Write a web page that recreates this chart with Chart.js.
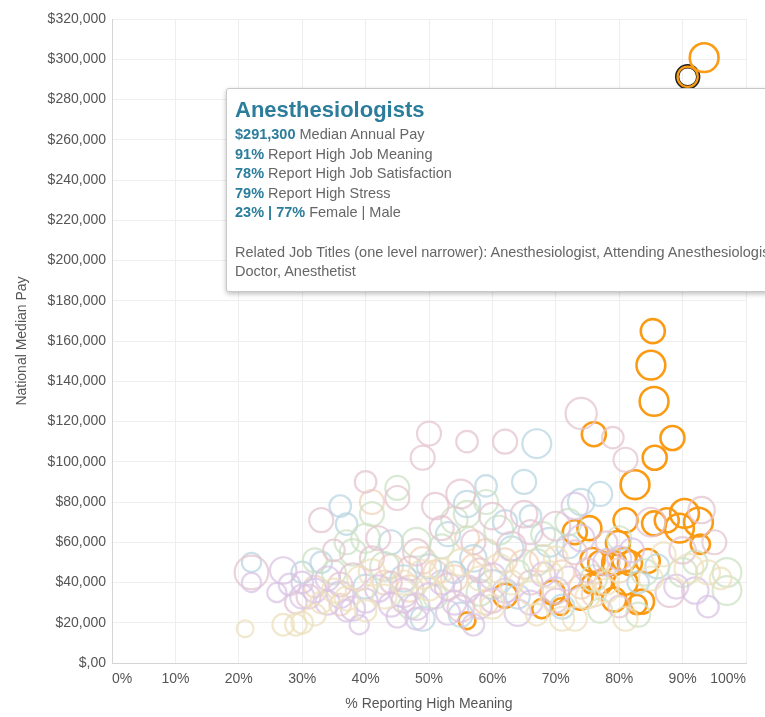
<!DOCTYPE html>
<html>
<head>
<meta charset="utf-8">
<script src="https://cdn.jsdelivr.net/npm/chart.js@4"></script>
<style>
  body { margin: 0; background: #fff; font-family: "Liberation Sans", Arial, sans-serif; }
  #wrap { position: relative; width: 765px; height: 717px; overflow: hidden; }
  #tip {
    position: absolute; left: 226px; top: 88px; width: 560px; height: 204px;
    background: #fff; border: 1px solid #c8c8c8; border-radius: 3px;
    box-shadow: 0 2px 5px rgba(0,0,0,0.25); box-sizing: border-box;
    padding: 6px 8px; color: #666; font-size: 14.5px; line-height: 19.6px; white-space: nowrap;
  }
  #tip .t { color: #2b7d9b; font-weight: bold; font-size: 22px; line-height: 30px; }
  #tip b { color: #2b7d9b; }
</style>
</head>
<body>
<div id="wrap">
  <canvas id="chart" width="765" height="717"></canvas>
  <div id="tip">
    <div class="t">Anesthesiologists</div>
    <div><b>$291,300</b> Median Annual Pay</div>
    <div><b>91%</b> Report High Job Meaning</div>
    <div><b>78%</b> Report High Job Satisfaction</div>
    <div><b>79%</b> Report High Stress</div>
    <div><b>23% | 77%</b> Female | Male</div>
    <div>&nbsp;</div>
    <div>Related Job Titles (one level narrower): Anesthesiologist, Attending Anesthesiologist,</div>
    <div>Doctor, Anesthetist</div>
  </div>
</div>
<script>
// [% high meaning, median pay in $k, bubble radius]
const pinkJobs = [[22,45,14],[33,71,10],[40,90,9],[50,114,10],[49,102,10],[56,110,9],[62,110,10],[74,124,13],[79,112,9],[81,101,10],[51,78,11],[55,84,12],[45,82,10],[60,73,11],[66,65,10],[70,68,12],[85,70,12],[93,76,11],[95,60,10],[90,56,11],[88,35,12],[70,31,10],[55,27,11],[46,31,10],[38,43,11],[42,62,10],[48,55,11],[58,46,10],[63,58,12],[52,67,10],[44,40,9],[36,39,10],[31,33,10],[29,30,9],[66,40,10],[75,46,10],[80,28,9],[60,31,10],[53,38,11],[47,47,10],[41,52,10],[35,56,9],[65,74,11],[73,55,10],[78,60,9],[57,60,10]];
const blueJobs = [[22,50,8],[36,78,9],[44,60,10],[37,69,9],[53,64,10],[56,79,11],[59,88,9],[65,90,10],[67,109,12],[66,73,9],[72,58,10],[74,80,11],[77,84,10],[69,60,12],[63,57,10],[57,52,11],[50,48,10],[46,42,11],[40,38,10],[60,39,12],[55,24,10],[49,22,10],[64,33,10],[71,28,10],[83,40,9],[86,48,10],[33,50,9],[30,45,9],[62,70,10],[54,45,9]];
const greenJobs = [[40,62,12],[41,74,10],[45,87,10],[37,60,10],[38,55,11],[43,48,12],[48,60,12],[52,58,10],[54,71,11],[56,74,11],[59,80,10],[61,66,12],[68,64,10],[72,70,11],[76,42,11],[80,62,10],[84,45,11],[90,45,12],[97,45,12],[97,36,12],[92,50,10],[67,50,11],[64,45,10],[58,35,11],[51,33,10],[35,45,10],[32,51,10],[47,28,10],[77,26,10],[83,24,10]];
const purpleJobs = [[22,40,8],[27,46,11],[28,39,9],[30,33,10],[32,36,10],[34,30,10],[36,34,11],[38,27,10],[40,31,10],[42,37,11],[44,29,10],[46,35,12],[48,28,11],[50,33,11],[52,40,10],[54,30,10],[56,37,11],[58,28,10],[60,43,11],[62,36,10],[64,25,11],[66,30,10],[68,44,10],[70,36,11],[72,42,10],[74,62,11],[78,50,11],[82,56,10],[89,38,10],[92,36,11],[94,28,9],[30,40,9],[34,42,10],[26,35,8],[39,19,8],[57,19,9],[48,22,9],[73,78,11],[80,52,10],[45,23,9],[37,26,9],[53,25,10]];
const beigeJobs = [[21,17,7],[27,19,9],[29,19,9],[30,20,9],[32,24,9],[33,30,9],[35,36,10],[37,32,10],[39,42,10],[41,45,11],[43,33,10],[46,40,10],[49,44,12],[52,46,10],[55,50,11],[58,42,10],[61,47,12],[63,40,10],[66,35,10],[69,44,11],[71,22,10],[73,22,10],[75,33,10],[78,40,10],[81,22,10],[85,42,10],[87,54,10],[91,47,12],[94,45,10],[96,42,9],[40,26,9],[50,37,10],[60,28,10],[67,24,9],[78,36,10],[70,52,10]];
const peachJobs = [[41,80,10],[32,38,9],[36,29,9],[43,40,10],[47,37,11],[51,45,10],[54,42,11],[57,48,10],[59,55,11],[62,51,10],[65,49,12],[68,52,11],[71,45,10],[74,38,10],[76,34,10],[80,46,10],[59,30,10],[44,48,10],[49,51,11],[56,62,10]];
// highlighted group (healthcare)
const orangeJobs = [[93.4,300.8,12],[85.3,164.9,10],[85,148,12],[85.5,130,12],[76,113.7,10],[88.4,111.8,10],[85.6,102,10],[82.5,88.6,12],[81,70.9,10],[73,65,10],[75.3,67,10],[85.5,69.4,10],[87.5,70.9,10],[90.3,74.3,12],[89.5,67,12],[92.5,70,12],[92.8,59,8],[79.8,59.6,10],[75.8,51.2,10],[77,49.7,10],[79.2,49.7,10],[80.8,51.2,10],[81.7,49.7,10],[84.5,50.7,10],[75.6,39.4,8],[77,39.9,10],[81,39.9,10],[69.5,35,10],[73.9,32.5,10],[79.2,31.5,10],[83.6,30.5,10],[82.8,29,8],[67.8,27,8],[70.8,28,7],[62,33.5,10],[56,21,7]];
const selectedJob = [[90.8,291.3,9]];

const xTicks = [0,10,20,30,40,50,60,70,80,90,100];
const yTicks = [0,20,40,60,80,100,120,140,160,180,200,220,240,260,280,300,320];
const sizeScale = 1.2;

function toPts(arr, k) { return arr.map(p => ({ x: p[0], y: p[1] * 1000, r: p[2] * k })); }
function ds(arr, color, w, k) {
  return { data: toPts(arr, k || sizeScale), borderColor: color, backgroundColor: 'rgba(0,0,0,0)', borderWidth: w || 2.2, hoverRadius: 0 };
}

const axisFont = { size: 14, family: 'Liberation Sans' };

new Chart(document.getElementById('chart'), {
  type: 'bubble',
  data: {
    datasets: [
      ds(beigeJobs, 'rgba(236,224,190,0.75)'),
      ds(purpleJobs, 'rgba(218,196,228,0.75)'),
      ds(pinkJobs, 'rgba(228,196,208,0.75)'),
      ds(greenJobs, 'rgba(204,226,196,0.75)'),
      ds(blueJobs, 'rgba(186,214,226,0.75)'),
      ds(peachJobs, 'rgba(242,210,186,0.75)'),
      ds(orangeJobs, '#fb9b14', 2.6),
      ds(selectedJob, '#222', 1.5, 1.33),
      ds(selectedJob, '#fb9b14', 3, 1.17),
      ds(selectedJob, '#222', 1.3, 1.0)
    ]
  },
  options: {
    responsive: false,
    animation: false,
    layout: { padding: { top: 10, right: 9, left: 0, bottom: 0 } },
    plugins: { legend: { display: false }, tooltip: { enabled: false } },
    scales: {
      x: {
        min: 0, max: 100,
        afterBuildTicks: s => { s.ticks = xTicks.map(v => ({ value: v })); },
        afterFit: s => { s.height = 54; },
        grid: { color: '#eeeeee', drawTicks: false },
        border: { color: '#d4d4d4' },
        ticks: { color: '#555', font: axisFont, padding: 8, align: 'inner', maxRotation: 0, callback: v => v + '%' },
        title: { display: true, text: '% Reporting High Meaning', color: '#555', font: axisFont, padding: { top: 0 } }
      },
      y: {
        min: 0, max: 320000,
        afterBuildTicks: s => { s.ticks = yTicks.map(v => ({ value: v * 1000 })); },
        afterFit: s => { s.width = 112; },
        grid: { color: '#eeeeee', drawTicks: false },
        border: { color: '#d4d4d4' },
        ticks: { color: '#555', font: axisFont, padding: 6,
          callback: v => v === 0 ? '$,00' : '$' + v.toLocaleString('en-US') },
        title: { display: true, text: 'National Median Pay', color: '#555', font: axisFont, padding: { top: 14, bottom: 0 } }
      }
    }
  }
});
</script>
</body>
</html>
